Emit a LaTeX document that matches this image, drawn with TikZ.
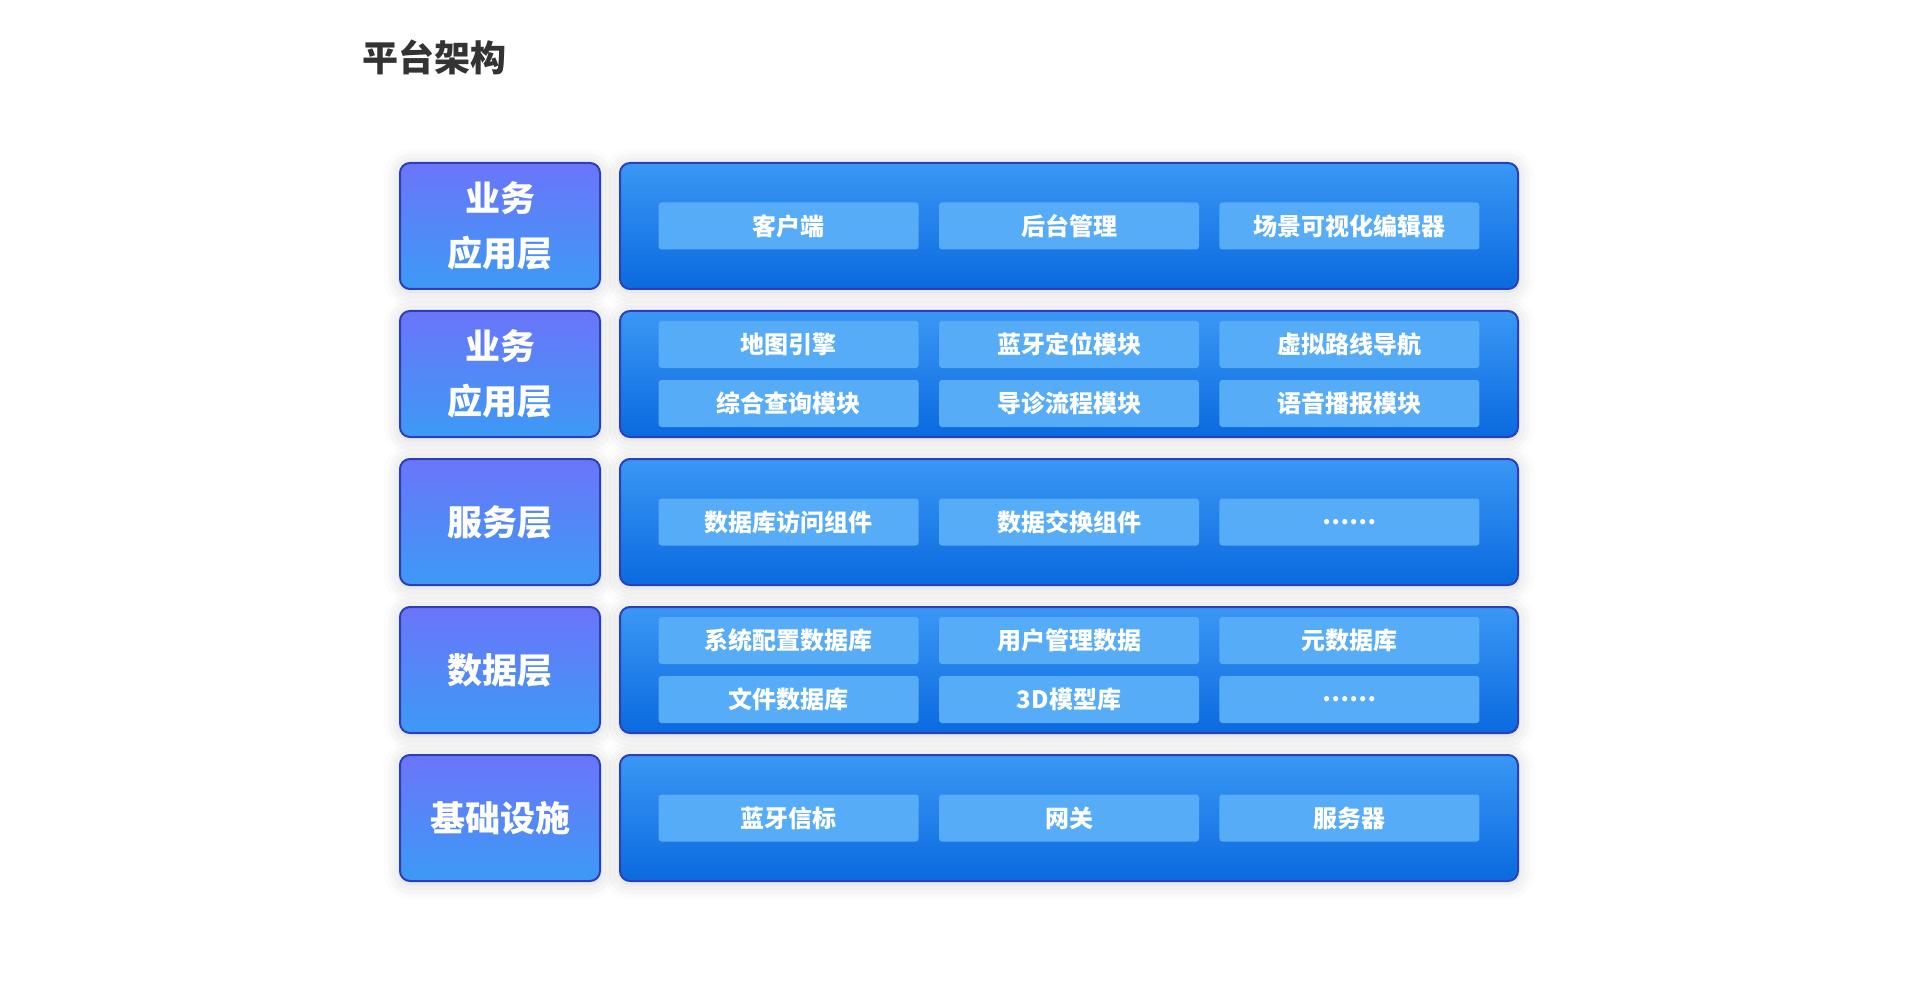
\documentclass[tikz,border=0pt]{standalone}
\usepackage{fontspec}
\setmainfont{Noto Sans CJK SC}
\usepackage{tikz}
\usetikzlibrary{positioning,shadows.blur}
\definecolor{titlegray}{HTML}{333333}
\definecolor{layertop}{HTML}{6B75FA}
\definecolor{layerbottom}{HTML}{3C9AF5}
\definecolor{paneltop}{HTML}{3A97F5}
\definecolor{panelbottom}{HTML}{0A6ADF}
\definecolor{edgeblue}{HTML}{2B40B8}
\definecolor{chipblue}{HTML}{57ACF7}
\tikzset{
  glow/.style={blur shadow={shadow xshift=0pt,shadow yshift=-2pt,shadow blur radius=16pt,shadow opacity=18}},
  layerbox/.style={glow,draw=edgeblue,line width=2pt,top color=layertop,bottom color=layerbottom,rounded corners=10pt,
    minimum width=200pt,minimum height=126pt,align=center,text=white,font=\fontsize{35}{55}\selectfont\bfseries},
  panelbox/.style={glow,draw=edgeblue,line width=2pt,top color=paneltop,bottom color=panelbottom,rounded corners=10pt,
    minimum width=898pt,minimum height=126pt},
  chipbox/.style={fill=chipblue,rounded corners=3pt,minimum width=260pt,minimum height=47pt,inner sep=0pt,
    text=white,font=\fontsize{24}{28}\selectfont\bfseries}
}
\begin{document}
\begin{tikzpicture}[x=1pt,y=-1pt,node distance=20pt and 20pt]
  \useasboundingbox (0,0) rectangle (1920,1000);
  \node[anchor=west,text=titlegray,font=\fontsize{36}{42}\selectfont\bfseries,inner sep=0pt] (title) at (362,57) {平台架构};
  % layer labels
  \node[layerbox] (lay1) at (500,226) {业务\\应用层};
  \node[layerbox,below=of lay1] (lay2) {业务\\应用层};
  \node[layerbox,below=of lay2] (lay3) {服务层};
  \node[layerbox,below=of lay3] (lay4) {数据层};
  \node[layerbox,below=of lay4] (lay5) {基础设施};
  % panels
  \node[panelbox,right=18pt of lay1] (pan1) {};
  \node[panelbox,right=18pt of lay2] (pan2) {};
  \node[panelbox,right=18pt of lay3] (pan3) {};
  \node[panelbox,right=18pt of lay4] (pan4) {};
  \node[panelbox,right=18pt of lay5] (pan5) {};
  % business application layer
  \node[chipbox] (client) at (pan1.center) {后台管理};
  \node[chipbox,left=of client] (front) {客户端};
  \node[chipbox,right=of client] (editor) {场景可视化编辑器};
  % second layer
  \node[chipbox] (beacon) at ([yshift=29.5pt]pan2.center) {蓝牙定位模块};
  \node[chipbox,left=of beacon] (mapeng) {地图引擎};
  \node[chipbox,right=of beacon] (navi) {虚拟路线导航};
  \node[chipbox] (guide) at ([yshift=-29.5pt]pan2.center) {导诊流程模块};
  \node[chipbox,left=of guide] (query) {综合查询模块};
  \node[chipbox,right=of guide] (voice) {语音播报模块};
  % service layer
  \node[chipbox] (exchange) at (pan3.center) {数据交换组件};
  \node[chipbox,left=of exchange] (dbaccess) {数据库访问组件};
  \node[chipbox,right=of exchange] (svcmore) {……};
  % data layer
  \node[chipbox] (userdb) at ([yshift=29.5pt]pan4.center) {用户管理数据};
  \node[chipbox,left=of userdb] (cfgdb) {系统配置数据库};
  \node[chipbox,right=of userdb] (metadb) {元数据库};
  \node[chipbox] (modeldb) at ([yshift=-29.5pt]pan4.center) {3D模型库};
  \node[chipbox,left=of modeldb] (filedb) {文件数据库};
  \node[chipbox,right=of modeldb] (datamore) {……};
  % infrastructure
  \node[chipbox] (gateway) at (pan5.center) {网关};
  \node[chipbox,left=of gateway] (tag) {蓝牙信标};
  \node[chipbox,right=of gateway] (server) {服务器};
\end{tikzpicture}
\end{document}
